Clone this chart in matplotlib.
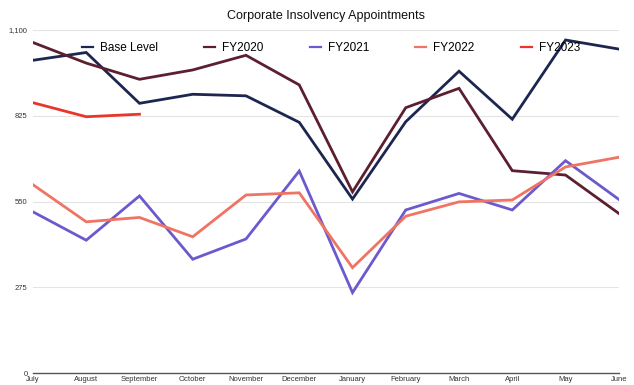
import matplotlib
matplotlib.use("Agg")
import matplotlib.pyplot as plt

plt.rcParams['font.family'] = ['Liberation Sans', 'DejaVu Sans']

months = ["July", "August", "September", "October", "November", "December",
          "January", "February", "March", "April", "May", "June"]
base_level = [1003, 1028, 865, 894, 889, 804, 558, 806, 968, 814, 1068, 1039]
fy2020 = [1060, 994, 942, 972, 1019, 924, 581, 851, 913, 649, 635, 512]
fy2021 = [517, 426, 568, 365, 430, 648, 258, 523, 576, 523, 681, 557]
fy2022 = [604, 485, 499, 437, 571, 578, 338, 503, 549, 555, 661, 692]
fy2023 = [867, 822, 830]
yticks = [0, 275, 550, 825, 1100]
ytick_labels = ["0", "275", "550", "825", "1,100"]

series = [
    ("Base Level", base_level, "#1c2650"),
    ("FY2020", fy2020, "#5c1f30"),
    ("FY2021", fy2021, "#6a5acd"),
    ("FY2022", fy2022, "#ef7463"),
    ("FY2023", fy2023, "#e8372a"),
]

fig = plt.figure(figsize=(6.34, 3.85), dpi=100)
ax = fig.add_axes([0.052, 0.031, 0.924, 0.891])

x = list(range(len(months)))
for name, vals, col in series:
    ax.plot(x[:len(vals)], vals, color=col, lw=2, label=name, solid_joinstyle='miter')

ax.set_xlim(0, len(months) - 1)
ax.set_ylim(0, 1100)
ax.set_yticks(yticks)
ax.set_yticklabels(ytick_labels)
ax.set_xticks(x)
ax.set_xticklabels(months)
ax.tick_params(axis='both', length=0, labelsize=5.5, colors='#333333')
ax.tick_params(axis='x', pad=2)
ax.tick_params(axis='y', pad=4)
ax.grid(axis='y', color='#e4e4e4', lw=0.8)
ax.set_axisbelow(True)
for s in ['top', 'right', 'left']:
    ax.spines[s].set_visible(False)
ax.spines['bottom'].set_color('#555555')
ax.spines['bottom'].set_linewidth(1)

ax.set_title("Corporate Insolvency Appointments", fontsize=9, pad=8, color='#111111')

leg = ax.legend(loc='center', bbox_to_anchor=(0.509, 0.948), ncol=5, frameon=False,
                fontsize=8.5, handlelength=0.93, handletextpad=0.6, columnspacing=3.9)
for h in leg.get_lines():
    h.set_linewidth(1.6)

fig.savefig("out.png", dpi=100)
